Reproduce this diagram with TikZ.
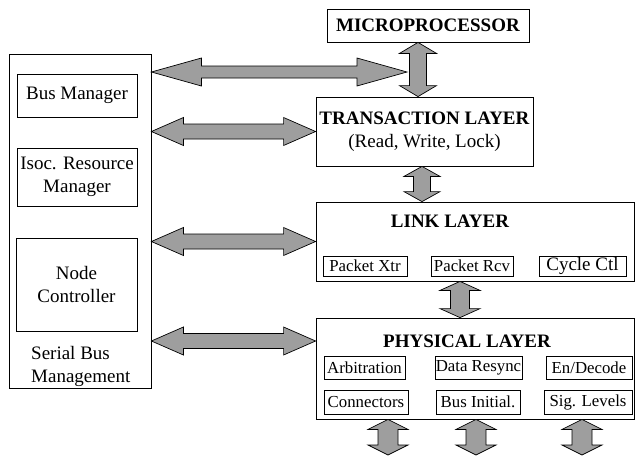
\documentclass[tikz,border=0pt]{standalone}
\usepackage{fontspec}
\setmainfont{Liberation Serif}
\usetikzlibrary{calc}

\newcommand{\bigtxt}{\fontsize{19}{23}\selectfont}
\newcommand{\smltxt}{\fontsize{16.8}{20}\selectfont}

\tikzset{
  blk/.style={draw=black, line width=0.8pt, inner sep=0pt, align=center, font=\bigtxt},
  subblk/.style={draw=black, line width=0.8pt, inner sep=0pt, font=\smltxt},
  ttl/.style={inner sep=0pt, font=\bigtxt\bfseries},
  fatarrow/.style n args={3}{draw=black, line width=0.7pt, fill=black!38,
    to path={let \p1=(\tikztostart), \p2=(\tikztotarget),
      \n1={atan2(\y2-\y1,\x2-\x1)} in
      -- ($(\p1)+(\n1:#1)+({\n1+90}:#2)$)
      -- ($(\p1)+(\n1:#1)+({\n1+90}:#3)$)
      -- ($(\p2)+(\n1:-#1)+({\n1+90}:#3)$)
      -- ($(\p2)+(\n1:-#1)+({\n1+90}:#2)$)
      -- (\p2)
      -- ($(\p2)+(\n1:-#1)+({\n1-90}:#2)$)
      -- ($(\p2)+(\n1:-#1)+({\n1-90}:#3)$)
      -- ($(\p1)+(\n1:#1)+({\n1-90}:#3)$)
      -- ($(\p1)+(\n1:#1)+({\n1-90}:#2)$)
      -- cycle}}
}

\begin{document}
\begin{tikzpicture}[x=1pt, y=-1pt]
  \useasboundingbox (0,0) rectangle (635,456);

  % serial bus management side
  \node[blk, minimum width=142, minimum height=334] (smgmt) at (80,221) {};
  \node[blk, minimum width=120, minimum height=43] (busmgr) at (77,95.5) {Bus Manager};
  \node[blk, minimum width=120, minimum height=58] (isoc) at (77,177) {Isoc. Resource\\Manager};
  \node[blk, minimum width=121, minimum height=93] (nodectl) at (76.5,284.5) {Node\\Controller};
  \node[inner sep=0pt, anchor=west, align=left, font=\bigtxt] (sbmlbl) at (31,366) {Serial Bus\\Management};

  % layers
  \node[blk, minimum width=202, minimum height=33] (micro) at (428,25.5) {\textbf{MICROPROCESSOR}};
  \node[blk, minimum width=217, minimum height=69] (trans) at (424.5,131.5)
    {\textbf{TRANSACTION LAYER}\\(Read, Write, Lock)};

  \node[blk, minimum width=318.5, minimum height=79] (link) at (475.25,241.5) {};
  \node[ttl] (linkttl) at (450,221) {LINK LAYER};
  \node[subblk, minimum width=84, minimum height=20] (pxtr) at (365,266) {Packet Xtr};
  \node[subblk, minimum width=82, minimum height=20] (prcv) at (472,266) {Packet Rcv};
  \node[subblk, minimum width=87, minimum height=20, font=\bigtxt] (cycctl) at (582.5,266) {Cycle Ctl};

  \node[blk, minimum width=318.5, minimum height=101] (phys) at (475.25,368.5) {};
  \node[ttl] (physttl) at (467,341) {PHYSICAL LAYER};
  \node[subblk, minimum width=81, minimum height=23] (arb) at (364.5,367.5) {Arbitration};
  \node[subblk, minimum width=87, minimum height=23] (resync) at (478.5,367.5) {Data Resync};
  \node[subblk, minimum width=86, minimum height=23] (endec) at (589,367.5) {En/Decode};
  \node[subblk, minimum width=84, minimum height=24] (conn) at (366,402) {Connectors};
  \node[subblk, minimum width=84, minimum height=24] (businit) at (478,402) {Bus Initial.};
  \node[subblk, minimum width=88, minimum height=24] (siglev) at (588,402) {Sig. Levels};

  % arrow axes and free ends
  \coordinate (axmt) at (418,0);
  \coordinate (axtl) at (422,0);
  \coordinate (axlp) at (460,0);
  \coordinate (mpjoin) at (407,72);
  \coordinate (outa) at (388,455);
  \coordinate (outb) at (476,455);
  \coordinate (outc) at (582,455);

  \draw[fatarrow={11pt}{18.5pt}{8.5pt}] (micro.south -| axmt) to (trans.north -| axmt);
  \draw[fatarrow={10pt}{18pt}{8.5pt}] (trans.south -| axtl) to (link.north -| axtl);
  \draw[fatarrow={9pt}{20pt}{9.5pt}] (link.south -| axlp) to (phys.north -| axlp);
  \draw[fatarrow={10pt}{20pt}{10pt}] (phys.south -| outa) to (outa);
  \draw[fatarrow={10pt}{20pt}{10pt}] (phys.south -| outb) to (outb);
  \draw[fatarrow={10pt}{20pt}{10pt}] (phys.south -| outc) to (outc);

  \draw[fatarrow={50pt}{14pt}{6pt}] (smgmt.east |- mpjoin) to (mpjoin);
  \draw[fatarrow={32pt}{14pt}{7.5pt}] (smgmt.east |- trans.west) to (trans.west);
  \draw[fatarrow={32pt}{14pt}{7.5pt}] (smgmt.east |- link.west) to (link.west);
  \draw[fatarrow={32pt}{14pt}{7.5pt}] (smgmt.east |- physttl) to (phys.west |- physttl);
\end{tikzpicture}
\end{document}
